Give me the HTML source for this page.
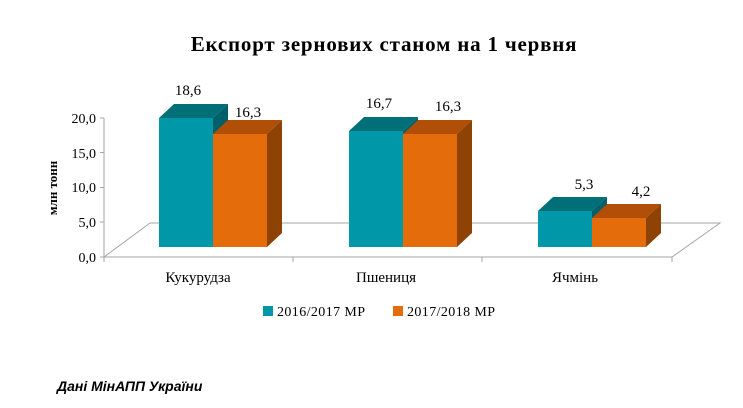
<!DOCTYPE html><html><head><meta charset="utf-8"><style>body{margin:0;background:#fff}svg{display:block}</style></head><body>
<svg width="743" height="408" xmlns="http://www.w3.org/2000/svg" font-family="Liberation Serif, serif">
<rect width="743" height="408" fill="#fff"/>
<text x="384" y="51" text-anchor="middle" font-size="21" font-weight="bold" letter-spacing="0.8">Експорт зернових станом на 1 червня</text>
<g stroke="#a6a6a6" stroke-width="1" fill="none">
<polyline points="104,118 104,257 672,257 720,223 150,223 104,257"/>
<line x1="100" y1="118" x2="104" y2="118"/><line x1="100" y1="152.5" x2="104" y2="152.5"/><line x1="100" y1="187.5" x2="104" y2="187.5"/><line x1="100" y1="222" x2="104" y2="222"/><line x1="100" y1="257" x2="104" y2="257"/>
<line x1="104" y1="257" x2="104" y2="262"/><line x1="293" y1="257" x2="293" y2="262"/><line x1="482" y1="257" x2="482" y2="262"/><line x1="672" y1="257" x2="672" y2="262"/>
</g>
<g font-size="14" text-anchor="end"><text x="96" y="123">20,0</text><text x="96" y="158">15,0</text><text x="96" y="192">10,0</text><text x="96" y="227">5,0</text><text x="96" y="262">0,0</text></g>
<text transform="translate(57,188) rotate(-90)" text-anchor="middle" font-size="13" font-weight="bold">млн тонн</text>
<g>
<polygon points="159,118 174,104 228,104 213,118" fill="#006f78"/><polygon points="213,118 228,104 228,233 213,247" fill="#00606a"/><rect x="159" y="118" width="54" height="129" fill="#0098a8"/>
<polygon points="213,134 228,120 282,120 267,134" fill="#b04f05"/><polygon points="267,134 282,120 282,233 267,247" fill="#8e4304"/><rect x="213" y="134" width="54" height="113" fill="#e46c0a"/>
<polygon points="349,131 364,117 418,117 403,131" fill="#006f78"/><polygon points="403,131 418,117 418,233 403,247" fill="#00606a"/><rect x="349" y="131" width="54" height="116" fill="#0098a8"/>
<polygon points="403,134 418,120 472,120 457,134" fill="#b04f05"/><polygon points="457,134 472,120 472,233 457,247" fill="#8e4304"/><rect x="403" y="134" width="54" height="113" fill="#e46c0a"/>
<polygon points="538,211 553,197 607,197 592,211" fill="#006f78"/><polygon points="592,211 607,197 607,233 592,247" fill="#00606a"/><rect x="538" y="211" width="54" height="36" fill="#0098a8"/>
<polygon points="592,218 607,204 661,204 646,218" fill="#b04f05"/><polygon points="646,218 661,204 661,233 646,247" fill="#8e4304"/><rect x="592" y="218" width="54" height="29" fill="#e46c0a"/>
</g>
<g font-size="15" text-anchor="middle"><text x="188" y="95">18,6</text><text x="248" y="117">16,3</text><text x="379" y="108">16,7</text><text x="448" y="111">16,3</text><text x="584" y="189">5,3</text><text x="641" y="196">4,2</text>
<text x="198" y="282">Кукурудза</text><text x="386" y="282">Пшениця</text><text x="575" y="282">Ячмінь</text></g>
<g font-size="14"><rect x="263" y="306" width="10" height="10" fill="#0098a8"/><text x="277" y="316" letter-spacing="0.4">2016/2017 МР</text>
<rect x="393" y="306" width="10" height="10" fill="#e46c0a"/><text x="407" y="316" letter-spacing="0.4">2017/2018 МР</text></g>
<text x="57" y="391" font-family="Liberation Sans, sans-serif" font-size="14" font-weight="bold" font-style="italic">Дані МінАПП України</text>
</svg></body></html>
